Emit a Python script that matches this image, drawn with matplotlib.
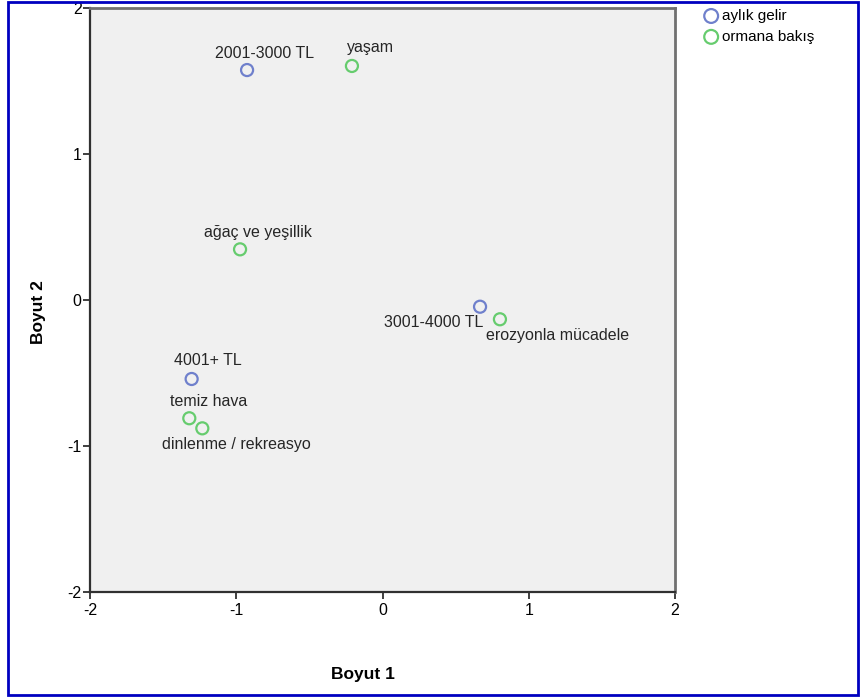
import matplotlib
matplotlib.use('Agg')
import matplotlib.pyplot as plt
from matplotlib.patches import Rectangle

# category points (Boyut 1, Boyut 2)
gelir_labels = ['2001-3000 TL', '3001-4000 TL', '4001+ TL']
gelir_x = [-0.926, 0.667, -1.305]
gelir_y = [1.575, -0.046, -0.541]

bakis_labels = ['yaşam', 'ağaç ve yeşillik', 'erozyonla mücadele',
                'temiz hava', 'dinlenme / rekreasyo']
bakis_x = [-0.209, -0.974, 0.803, -1.321, -1.232]
bakis_y = [1.603, 0.347, -0.132, -0.810, -0.879]

# label placement in pixels relative to the point (dx, dy, ha)
gelir_offsets = [(17, 17, 'center'), (3, -16, 'right'), (16, 18, 'center')]
bakis_offsets = [(19, 18, 'center'), (18, 17, 'center'), (-14, -16, 'left'),
                 (19, 17, 'center'), (34, -16, 'center')]

blue = '#6f80cc'
green = '#66cc6e'
font = 'Liberation Sans'

fig = plt.figure(figsize=(8.65, 6.99), dpi=100)
ax = fig.add_axes([90 / 865, 1 - 592 / 699, 585 / 865, 584 / 699])
ax.set_facecolor('#f0f0f0')

ax.scatter(gelir_x, gelir_y, s=75, facecolors='none', edgecolors=blue,
           linewidths=1.6, zorder=3, label='aylık gelir')
ax.scatter(bakis_x, bakis_y, s=75, facecolors='none', edgecolors=green,
           linewidths=1.6, zorder=3, label='ormana bakış')

for labels, xs, ys, offs in [(gelir_labels, gelir_x, gelir_y, gelir_offsets),
                             (bakis_labels, bakis_x, bakis_y, bakis_offsets)]:
    for lab, x, y, (dx, dy, ha) in zip(labels, xs, ys, offs):
        ax.annotate(lab, (x, y), xytext=(dx * 0.72, dy * 0.72),
                    textcoords='offset points', ha=ha, va='center',
                    fontsize=11.5, color='#262626', family=font)

ax.set_xlim(-2, 2)
ax.set_ylim(-2, 2)
ax.set_xticks([-2, -1, 0, 1, 2])
ax.set_yticks([-2, -1, 0, 1, 2])
ax.set_xticklabels(['-2', '-1', '0', '1', '2'], family=font, fontsize=11.5)
ax.set_yticklabels(['-2', '-1', '0', '1', '2'], family=font, fontsize=11.5)
ax.tick_params(direction='out', length=5, width=1.3, color='#303030', pad=1)
ax.tick_params(axis='x', pad=3)

for side in ['left', 'bottom']:
    ax.spines[side].set_color('#303030')
    ax.spines[side].set_linewidth(1.6)
for side in ['top', 'right']:
    ax.spines[side].set_color('#707070')
    ax.spines[side].set_linewidth(2)

fig.text(363 / 865, 1 - 675 / 699, 'Boyut 1', ha='center', va='center',
         fontsize=12.5, fontweight='bold', family=font)
fig.text(38 / 865, 1 - 312 / 699, 'Boyut 2', ha='center', va='center',
         rotation=90, fontsize=12.5, fontweight='bold', family=font)

fig.legend(loc='upper left', bbox_to_anchor=(702 / 865, 1 - 9 / 699),
           frameon=False, handletextpad=0.1, borderpad=0,
           labelspacing=0.45, borderaxespad=0, handlelength=1.2,
           markerscale=1.15, prop={'family': font, 'size': 11})

# blue frame round the whole picture
fig.patches.append(Rectangle((8 / 865, 4 / 699), 850 / 865, 693 / 699,
                             transform=fig.transFigure, fill=False,
                             edgecolor='#0000c0', linewidth=2))

plt.savefig('out.png', dpi=100)
plt.close()
